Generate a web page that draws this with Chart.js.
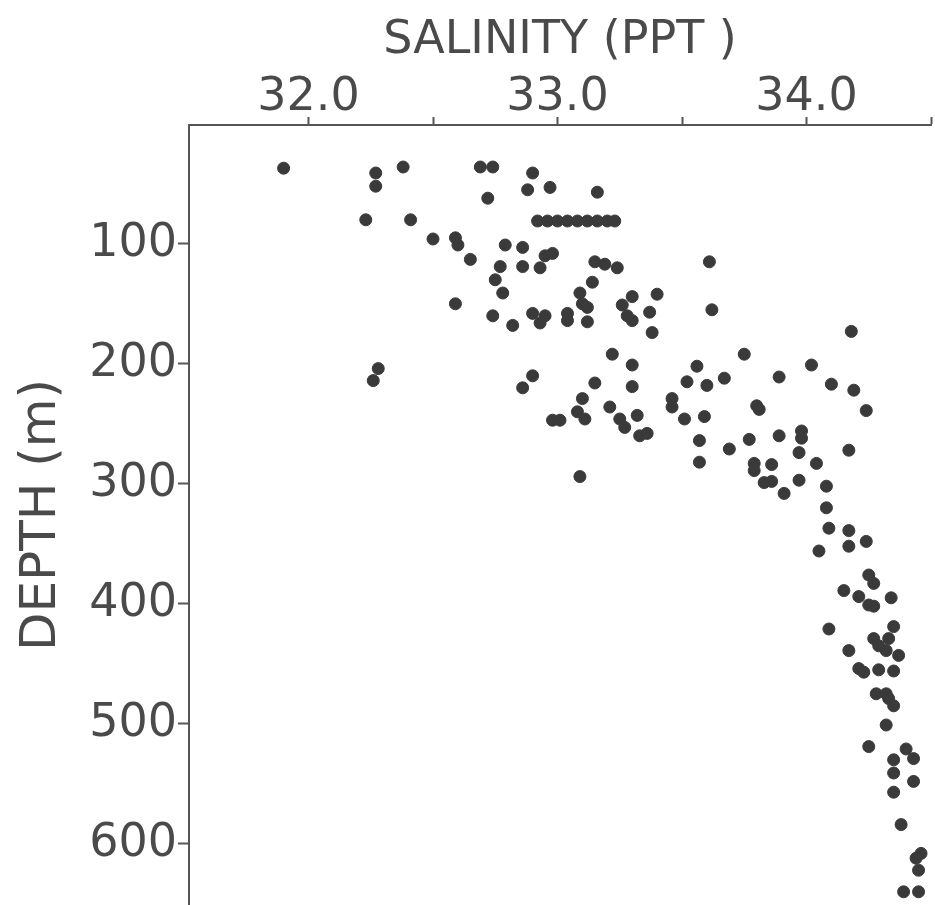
<!DOCTYPE html>
<html>
<head>
<meta charset="utf-8">
<title>Salinity vs depth</title>
<script src="https://cdn.jsdelivr.net/npm/chart.js@4/dist/chart.umd.min.js"></script>
<style>
    html, body { margin: 0; padding: 0; background: #fff; overflow: hidden; }
    canvas { display: block; }
</style>
</head>
<body>
<canvas id="myChart" width="935" height="905"></canvas>
<script>
/**------------------------------------------------------------------------------------------------  DATA  */
// salinity (ppt) and depth (m) of each sample, same order
const salinity = [
    31.90, 32.27, 32.27, 32.38, 32.23, 32.41, 32.50, 32.59, 32.60, 32.59,
    32.69, 32.74, 32.90, 32.88, 32.97, 33.16, 32.72,
    32.92, 32.96, 33.00, 33.04, 33.08, 33.12, 33.16, 33.20, 33.23,
    32.79, 32.86, 32.95, 32.98, 32.65, 32.77, 32.75, 32.78, 32.86, 32.93,
    33.15, 33.19, 33.24, 33.14, 33.09, 33.10, 33.30, 33.26, 33.61, 33.62,
    33.40, 33.37, 33.38, 32.82, 32.90, 32.95, 32.93, 33.04, 33.04, 33.12,
    33.12, 33.28, 33.30, 33.22, 33.30, 33.52, 33.56, 32.90, 32.86, 33.15,
    33.30, 33.10, 33.08, 33.11, 32.98, 33.01, 33.21, 33.25, 33.27, 33.32,
    33.33, 33.36, 33.46, 33.46, 33.51, 33.09, 33.57, 33.57, 32.28, 32.26,
    32.74, 34.18, 33.75, 34.02, 33.89, 33.67, 33.60, 34.10, 34.19, 34.24,
    33.80, 33.81, 33.59, 33.69, 33.77, 33.89, 33.98, 33.98, 33.97, 34.17,
    33.79, 33.79, 33.86, 34.04, 33.83, 33.86, 33.97, 33.91, 34.08, 34.08,
    34.09, 34.17, 34.17, 34.24, 34.05, 34.25, 34.27, 34.15, 34.21, 34.25,
    34.27, 34.34, 34.09, 34.35, 34.27, 34.29, 34.32, 34.33, 34.17, 34.37,
    34.21, 34.23, 34.29, 34.35, 34.28, 34.32, 34.33, 34.35, 34.32, 34.25,
    34.40, 34.43, 34.35, 34.35, 34.43, 34.35, 34.38, 34.46, 34.44, 34.45,
    34.39, 34.45
];
const depth = [
    37, 41, 52, 36, 80, 80, 96, 95, 101, 150,
    36, 36, 41, 55, 53, 57, 62,
    81, 81, 81, 81, 81, 81, 81, 81, 81,
    101, 103, 110, 108, 113, 119, 130, 141, 119, 120,
    115, 117, 120, 132, 141, 150, 144, 151, 115, 155,
    142, 157, 174, 168, 158, 160, 166, 164, 158, 153,
    165, 160, 164, 192, 201, 215, 202, 210, 220, 216,
    219, 229, 240, 246, 247, 247, 236, 246, 253, 243,
    260, 258, 229, 236, 246, 294, 264, 282, 204, 214,
    160, 173, 192, 201, 211, 212, 218, 217, 222, 239,
    235, 238, 244, 271, 263, 260, 256, 262, 274, 272,
    283, 289, 284, 283, 299, 298, 297, 308, 302, 320,
    337, 339, 352, 348, 356, 376, 383, 389, 394, 401,
    402, 395, 421, 419, 429, 435, 439, 429, 439, 443,
    454, 457, 455, 456, 475, 475, 479, 485, 501, 519,
    521, 529, 530, 541, 548, 557, 584, 608, 612, 622,
    640, 640
];
const salinityTicks = [32.0, 32.5, 33.0, 33.5, 34.0, 34.5];
const depthTicks = [100, 200, 300, 400, 500, 600];

/**------------------------------------------------------------------------------------------------  CHART  */
const ink = '#3a3a3a';
const lettering = 'DejaVu Sans';

const points = salinity.map((s, i) => ({ x: s, y: depth[i] }));

// fixed box sizes, and no extra room kept for the end labels
const fixBox = (size) => (scale) => {
    if (scale.isHorizontal()) {
        scale.height = size;
    } else {
        scale.width = size;
    }
    scale.paddingTop = 0;
    scale.paddingBottom = 0;
    scale.paddingLeft = 0;
    scale.paddingRight = 0;
};

const data = {
    datasets: [{
        label: 'Samples',
        data: points,
        pointRadius: 6,
        pointHoverRadius: 6,
        pointBorderWidth: 1,
        backgroundColor: ink,
        borderColor: ink,
        showLine: false
    }]
};

const config = {
    type: 'scatter',
    data,
    options: {
        responsive: false,
        animation: false,
        devicePixelRatio: 1,
        layout: {
            autoPadding: false,
            padding: { top: 0, left: 0, right: 4, bottom: 0 }
        },
        scales: {
            x: {
                type: 'linear',
                position: 'top',
                min: 31.52,
                max: 34.5,
                afterBuildTicks: (scale) => {
                    scale.ticks = salinityTicks.map(v => ({ value: v }));
                },
                afterFit: fixBox(125),
                grid: {
                    drawOnChartArea: false,
                    tickLength: 8,
                    tickWidth: 2,
                    tickColor: '#555'
                },
                border: {
                    display: true,
                    color: '#555',
                    width: 2
                },
                ticks: {
                    autoSkip: false,
                    maxRotation: 0,
                    padding: -4,
                    color: '#4a4a4a',
                    font: { family: lettering, size: 46, lineHeight: 1.0 },
                    callback: (v) => (Math.abs(v % 1) < 1e-9 ? v.toFixed(1) : '')
                },
                title: {
                    display: true,
                    text: 'SALINITY (PPT )',
                    color: '#4a4a4a',
                    font: { family: lettering, size: 46 },
                    padding: { top: 13, bottom: 0 }
                }
            },
            y: {
                type: 'linear',
                position: 'left',
                reverse: true,
                min: 1,
                max: 651,
                afterBuildTicks: (scale) => {
                    scale.ticks = depthTicks.map(v => ({ value: v }));
                },
                afterFit: fixBox(189),
                grid: {
                    drawOnChartArea: false,
                    tickLength: 11,
                    tickWidth: 2,
                    tickColor: '#555'
                },
                border: {
                    display: true,
                    color: '#555',
                    width: 2
                },
                ticks: {
                    autoSkip: false,
                    padding: 1,
                    color: '#4a4a4a',
                    font: { family: lettering, size: 46 }
                },
                title: {
                    display: true,
                    text: 'DEPTH (m)',
                    color: '#4a4a4a',
                    font: { family: lettering, size: 50 },
                    padding: { top: 12, bottom: 0 }
                }
            }
        },
        plugins: {
            legend: { display: false },
            tooltip: { enabled: false }
        }
    }
};

new Chart(
    document.getElementById('myChart'),
    config
);
</script>
</body>
</html>
